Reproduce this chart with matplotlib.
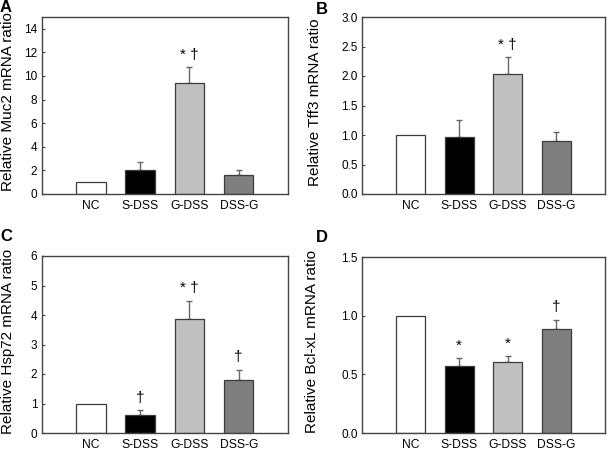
import matplotlib
matplotlib.use("Agg")
import matplotlib.pyplot as plt
import numpy as np

plt.rcParams['font.family'] = ['Liberation Sans', 'DejaVu Sans']

# data
groups = ['NC', 'S-DSS', 'G-DSS', 'DSS-G']
muc2 = [1.0, 2.07, 9.4, 1.62]
muc2_err = [0.0, 0.65, 1.35, 0.43]
muc2_marks = ['', '', '* †', '']
tff3 = [1.0, 0.96, 2.03, 0.90]
tff3_err = [0.0, 0.30, 0.29, 0.145]
tff3_marks = ['', '', '* †', '']
hsp72 = [1.0, 0.6, 3.87, 1.78]
hsp72_err = [0.0, 0.17, 0.61, 0.37]
hsp72_marks = ['', '†', '* †', '†']
bclxl = [1.0, 0.575, 0.609, 0.887]
bclxl_err = [0.0, 0.065, 0.048, 0.076]
bclxl_marks = ['', '*', '*', '†']

bar_colors = ['white', 'black', '#c0c0c0', '#7f7f7f']
edge = '#3c3c3c'

W, H = 609, 450
fig = plt.figure(figsize=(W / 100, H / 100), dpi=100)


def px_axes(l, t, r, b):
    return fig.add_axes([l / W, 1 - b / H, (r - l) / W, (b - t) / H])


def panel(ax, vals, errs, marks, ylim, yticks, fmt, ylabel, labx):
    x = np.arange(len(groups))
    vals = np.array(vals)
    errs = np.array(errs)
    ax.bar(x, vals, width=0.6, color=bar_colors, edgecolor=edge, linewidth=0.9, zorder=2)
    has = errs > 0
    ax.errorbar(x[has], vals[has], yerr=[np.zeros(has.sum()), errs[has]], fmt='none',
                ecolor='#666666', elinewidth=1.0, capsize=2.2, capthick=1.0, zorder=1)
    for xi, v, e, m in zip(x, vals, errs, marks):
        if m:
            ax.annotate(m, (xi, v + e), xytext=(0, 4), textcoords='offset points',
                        ha='center', va='bottom', fontsize=11)
    ax.set_xlim(-1, 4)
    ax.set_ylim(*ylim)
    ax.set_yticks(yticks)
    ax.set_yticklabels([fmt.format(t) for t in yticks])
    ax.set_xticks(x)
    ax.set_xticklabels(groups)
    ax.tick_params(axis='x', length=0, labelsize=8.7, pad=4)
    ax.tick_params(axis='y', direction='in', length=2.5, labelsize=8.5, pad=3, color='#444444')
    for s in ax.spines.values():
        s.set_color('#444444')
        s.set_linewidth(1.0)
    ax.set_ylabel(ylabel, fontsize=11)
    ax.yaxis.set_label_coords(labx, 0.52)


axA = px_axes(41.5, 17, 288, 194)
panel(axA, muc2, muc2_err, muc2_marks, (0, 15), np.arange(0, 15, 2), '{:.0f}',
      'Relative Muc2 mRNA ratio', -0.108)
axB = px_axes(362, 17, 605, 194)
panel(axB, tff3, tff3_err, tff3_marks, (0, 3.0), np.arange(0, 3.01, 0.5), '{:.1f}',
      'Relative Tff3 mRNA ratio', -0.165)
axC = px_axes(41.5, 256, 288, 433)
panel(axC, hsp72, hsp72_err, hsp72_marks, (0, 6), np.arange(0, 7, 1), '{:.0f}',
      'Relative Hsp72 mRNA ratio', -0.108)
axD = px_axes(362, 257, 605, 433)
panel(axD, bclxl, bclxl_err, bclxl_marks, (0, 1.5), np.arange(0, 1.51, 0.5), '{:.1f}',
      'Relative Bcl-xL mRNA ratio', -0.177)

for lab, (px, py) in zip('ABCD', [(6, 8), (322, 9), (6, 236), (322, 238)]):
    fig.text(px / W, 1 - py / H, lab, fontsize=12, fontweight='bold',
             ha='center', va='center')

fig.savefig('out.png', dpi=100)
